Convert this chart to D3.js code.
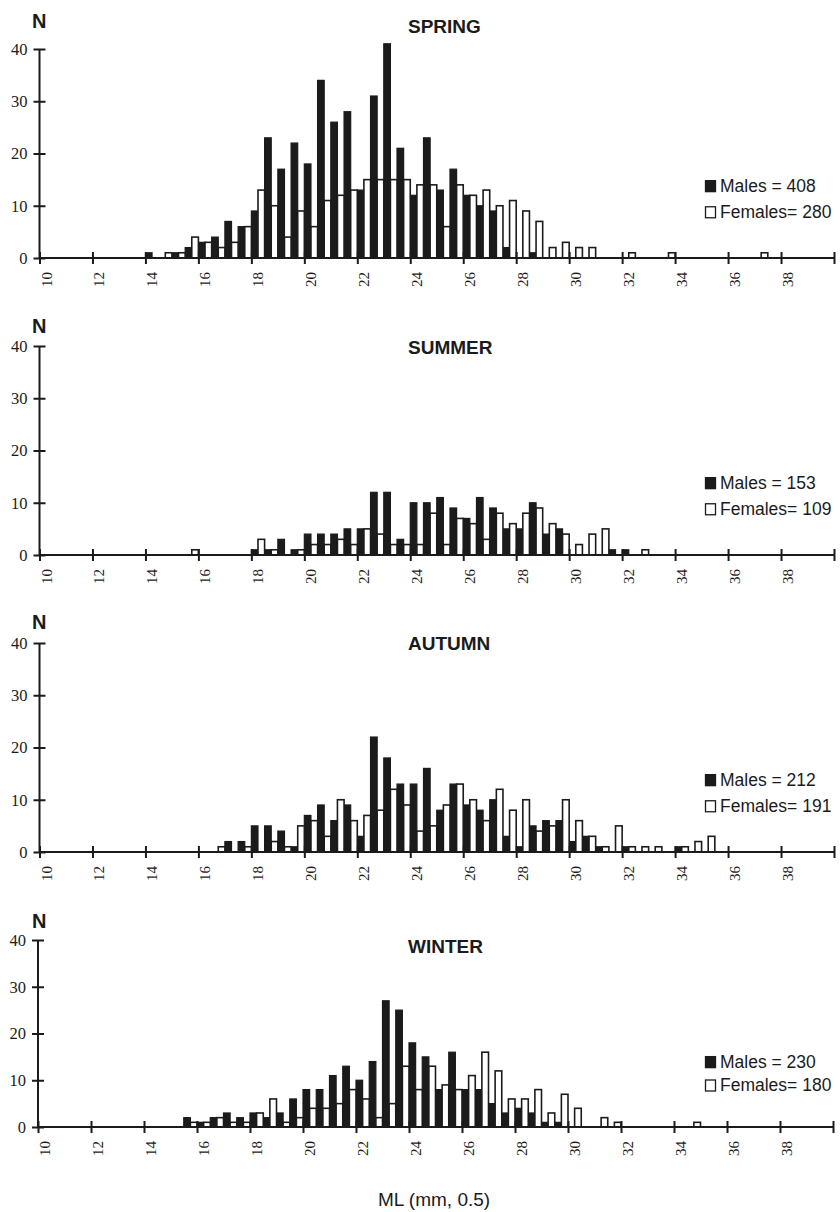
<!DOCTYPE html>
<html>
<head>
<meta charset="utf-8">
<script src="https://cdnjs.cloudflare.com/ajax/libs/d3/7.8.5/d3.min.js"></script>
<style>
  body { margin: 0; background: #fff; }
</style>
</head>
<body>
<svg id="chart" width="840" height="1212"></svg>
<script>
// size classes are 0.5 mm wide, keyed by lower bound: [class, count]
const springMales = [[14,1],[15,1],[15.5,2],[16,3],[16.5,4],[17,7],[17.5,6],[18,9],[18.5,23],[19,17],[19.5,22],[20,18],[20.5,34],[21,26],[21.5,28],[22,13],[22.5,31],[23,41],[23.5,21],[24,12],[24.5,23],[25,13],[25.5,17],[26,12],[26.5,10],[27,9],[27.5,2],[28.5,1]];
const springFemales = [[14.5,1],[15,1],[15.5,4],[16,3],[16.5,2],[17,3],[17.5,6],[18,13],[18.5,10],[19,4],[19.5,9],[20,6],[20.5,11],[21,12],[21.5,13],[22,15],[22.5,15],[23,15],[23.5,15],[24,14],[24.5,14],[25,6],[25.5,14],[26,12],[26.5,13],[27,10],[27.5,11],[28,9],[28.5,7],[29,2],[29.5,3],[30,2],[30.5,2],[32,1],[33.5,1],[37,1]];

const summerMales = [[18,1],[18.5,1],[19,3],[19.5,1],[20,4],[20.5,4],[21,4],[21.5,5],[22,5],[22.5,12],[23,12],[23.5,3],[24,10],[24.5,10],[25,11],[25.5,9],[26,7],[26.5,11],[27,9],[27.5,5],[28,5],[28.5,10],[29,4],[29.5,5],[31.5,1],[32,1]];
const summerFemales = [[15.5,1],[18,3],[18.5,1],[19.5,1],[20,2],[20.5,2],[21,3],[21.5,2],[22,5],[22.5,4],[23,2],[23.5,2],[24,2],[24.5,8],[25,2],[25.5,7],[26,6],[26.5,3],[27,8],[27.5,6],[28,8],[28.5,9],[29,6],[29.5,4],[30,2],[30.5,4],[31,5],[32.5,1]];

const autumnMales = [[17,2],[17.5,2],[18,5],[18.5,5],[19,4],[19.5,1],[20,7],[20.5,9],[21,6],[21.5,9],[22,3],[22.5,22],[23,18],[23.5,13],[24,13],[24.5,16],[25,8],[25.5,13],[26,9],[26.5,8],[27,10],[27.5,3],[28,1],[28.5,5],[29,6],[29.5,6],[30,2],[30.5,3],[31,1],[32,1],[34,1]];
const autumnFemales = [[16.5,1],[17.5,1],[18.5,2],[19,1],[19.5,5],[20,6],[20.5,3],[21,10],[21.5,6],[22,7],[22.5,8],[23,12],[23.5,9],[24,4],[24.5,5],[25,9],[25.5,13],[26,10],[26.5,6],[27,12],[27.5,8],[28,10],[28.5,4],[29,5],[29.5,10],[30,6],[30.5,3],[31,1],[31.5,5],[32,1],[32.5,1],[33,1],[34,1],[34.5,2],[35,3]];

const winterMales = [[15.5,2],[16,1],[16.5,2],[17,3],[17.5,2],[18,3],[18.5,2],[19,3],[19.5,6],[20,8],[20.5,8],[21,11],[21.5,13],[22,10],[22.5,14],[23,27],[23.5,25],[24,18],[24.5,15],[25,8],[25.5,16],[26,8],[26.5,8],[27,5],[27.5,3],[28,4],[28.5,3],[29,1],[29.5,1]];
const winterFemales = [[15.5,1],[16,1],[16.5,2],[17,1],[17.5,1],[18,3],[18.5,6],[19,1],[19.5,2],[20,4],[20.5,4],[21,5],[21.5,8],[22,6],[22.5,2],[23,5],[23.5,13],[24,8],[24.5,13],[25,9],[25.5,8],[26,11],[26.5,16],[27,12],[27.5,6],[28,6],[28.5,8],[29,3],[29.5,7],[30,4],[31,2],[31.5,1],[34.5,1]];

const seasons = ['SPRING', 'SUMMER', 'AUTUMN', 'WINTER'];
const malesTotal = [408, 153, 212, 230];
const femalesTotal = [280, 109, 191, 180];
const xTicks = [10, 12, 14, 16, 18, 20, 22, 24, 26, 28, 30, 32, 34, 36, 38, 40];
const yTicks = [0, 10, 20, 30, 40];

const maleSeries = [springMales, summerMales, autumnMales, winterMales];
const femaleSeries = [springFemales, summerFemales, autumnFemales, winterFemales];

// panel geometry
const panels = [
  {top: 49, bottom: 258, left: 39.5, right: 834, titleY: 33, nY: 28},
  {top: 346, bottom: 555, left: 39.5, right: 834, titleY: 354, nY: 333},
  {top: 643, bottom: 852, left: 39.5, right: 834, titleY: 650, nY: 629},
  {top: 940, bottom: 1127, left: 38, right: 833, titleY: 953, nY: 928}
];
const ink = '#1b1b1b';
const serif = '"Liberation Serif", "Times New Roman", serif';
const sans = '"Liberation Sans", Arial, sans-serif';
const halfBar = 0.25;

const svg = d3.select('#chart');

panels.forEach(function (p, i) {
  const x = d3.scaleLinear().domain([10, 40]).range([p.left, p.right]);
  const y = d3.scaleLinear().domain([0, 40]).range([p.bottom, p.top]);
  const g = svg.append('g');

  // bars: males left half, females right half of each 0.5 class
  g.selectAll('rect.m')
    .data(maleSeries[i])
    .enter().append('rect')
    .attr('class', 'm')
    .attr('x', d => x(d[0]))
    .attr('width', d => x(d[0] + halfBar) - x(d[0]))
    .attr('y', d => y(d[1]))
    .attr('height', d => y(0) - y(d[1]))
    .attr('fill', ink)
    .attr('stroke', ink)
    .attr('stroke-width', 1.2);

  g.selectAll('rect.f')
    .data(femaleSeries[i])
    .enter().append('rect')
    .attr('class', 'f')
    .attr('x', d => x(d[0] + halfBar))
    .attr('width', d => x(d[0] + 2 * halfBar) - x(d[0] + halfBar))
    .attr('y', d => y(d[1]))
    .attr('height', d => y(0) - y(d[1]))
    .attr('fill', '#fff')
    .attr('stroke', ink)
    .attr('stroke-width', 1.6);

  // x axis
  const xAxis = d3.axisBottom(x).tickValues(xTicks).tickSize(6).tickFormat(d => d === 40 ? '' : d);
  const xg = g.append('g')
    .attr('transform', 'translate(0,' + p.bottom + ')')
    .call(xAxis)
    .attr('font-family', serif)
    .attr('font-size', 15);
  xg.select('.domain').remove();
  xg.selectAll('.tick line').attr('stroke', ink).attr('stroke-width', 2).attr('y1', -6);
  xg.selectAll('.tick text')
    .attr('fill', ink)
    .attr('text-anchor', 'end')
    .attr('transform', 'translate(11.5,14) rotate(-90)')
    .attr('x', 0).attr('y', 0).attr('dy', 0);

  // y axis
  const yAxis = d3.axisLeft(y).tickValues(yTicks).tickSize(6).tickPadding(6);
  const yg = g.append('g')
    .attr('transform', 'translate(' + p.left + ',0)')
    .call(yAxis)
    .attr('font-family', serif)
    .attr('font-size', 16.5);
  yg.select('.domain').remove();
  yg.selectAll('.tick line').attr('stroke', ink).attr('stroke-width', 2).attr('x1', 6);
  yg.selectAll('.tick text').attr('fill', ink);

  g.append('line').attr('x1', p.left).attr('x2', p.right).attr('y1', p.bottom).attr('y2', p.bottom)
    .attr('stroke', ink).attr('stroke-width', 2);
  g.append('line').attr('x1', p.left).attr('x2', p.left).attr('y1', p.top).attr('y2', p.bottom)
    .attr('stroke', ink).attr('stroke-width', 2);

  // N label and season title
  g.append('text')
    .attr('x', 32).attr('y', p.nY)
    .attr('font-family', sans).attr('font-size', 20).attr('font-weight', 'bold')
    .attr('fill', ink)
    .text('N');
  g.append('text')
    .attr('x', 408).attr('y', p.titleY)
    .attr('font-family', sans).attr('font-size', 19).attr('font-weight', 'bold')
    .attr('fill', ink)
    .text(seasons[i]);

  // legend
  const legend = [
    {label: 'Males = ' + malesTotal[i], fill: ink, v: 12.7},
    {label: 'Females= ' + femalesTotal[i], fill: '#fff', v: 7.7}
  ];
  legend.forEach(function (l) {
    const by = y(l.v);
    g.append('rect')
      .attr('x', 705.5).attr('y', by - 11).attr('width', 10).attr('height', 11)
      .attr('fill', l.fill).attr('stroke', ink).attr('stroke-width', 1.3);
    g.append('text')
      .attr('x', 720).attr('y', by)
      .attr('font-family', sans).attr('font-size', 17.5)
      .attr('fill', ink)
      .text(l.label);
  });
});

svg.append('text')
  .attr('x', 434).attr('y', 1206)
  .attr('text-anchor', 'middle')
  .attr('font-family', sans).attr('font-size', 19)
  .attr('fill', ink)
  .text('ML (mm, 0.5)');
</script>
</body>
</html>
